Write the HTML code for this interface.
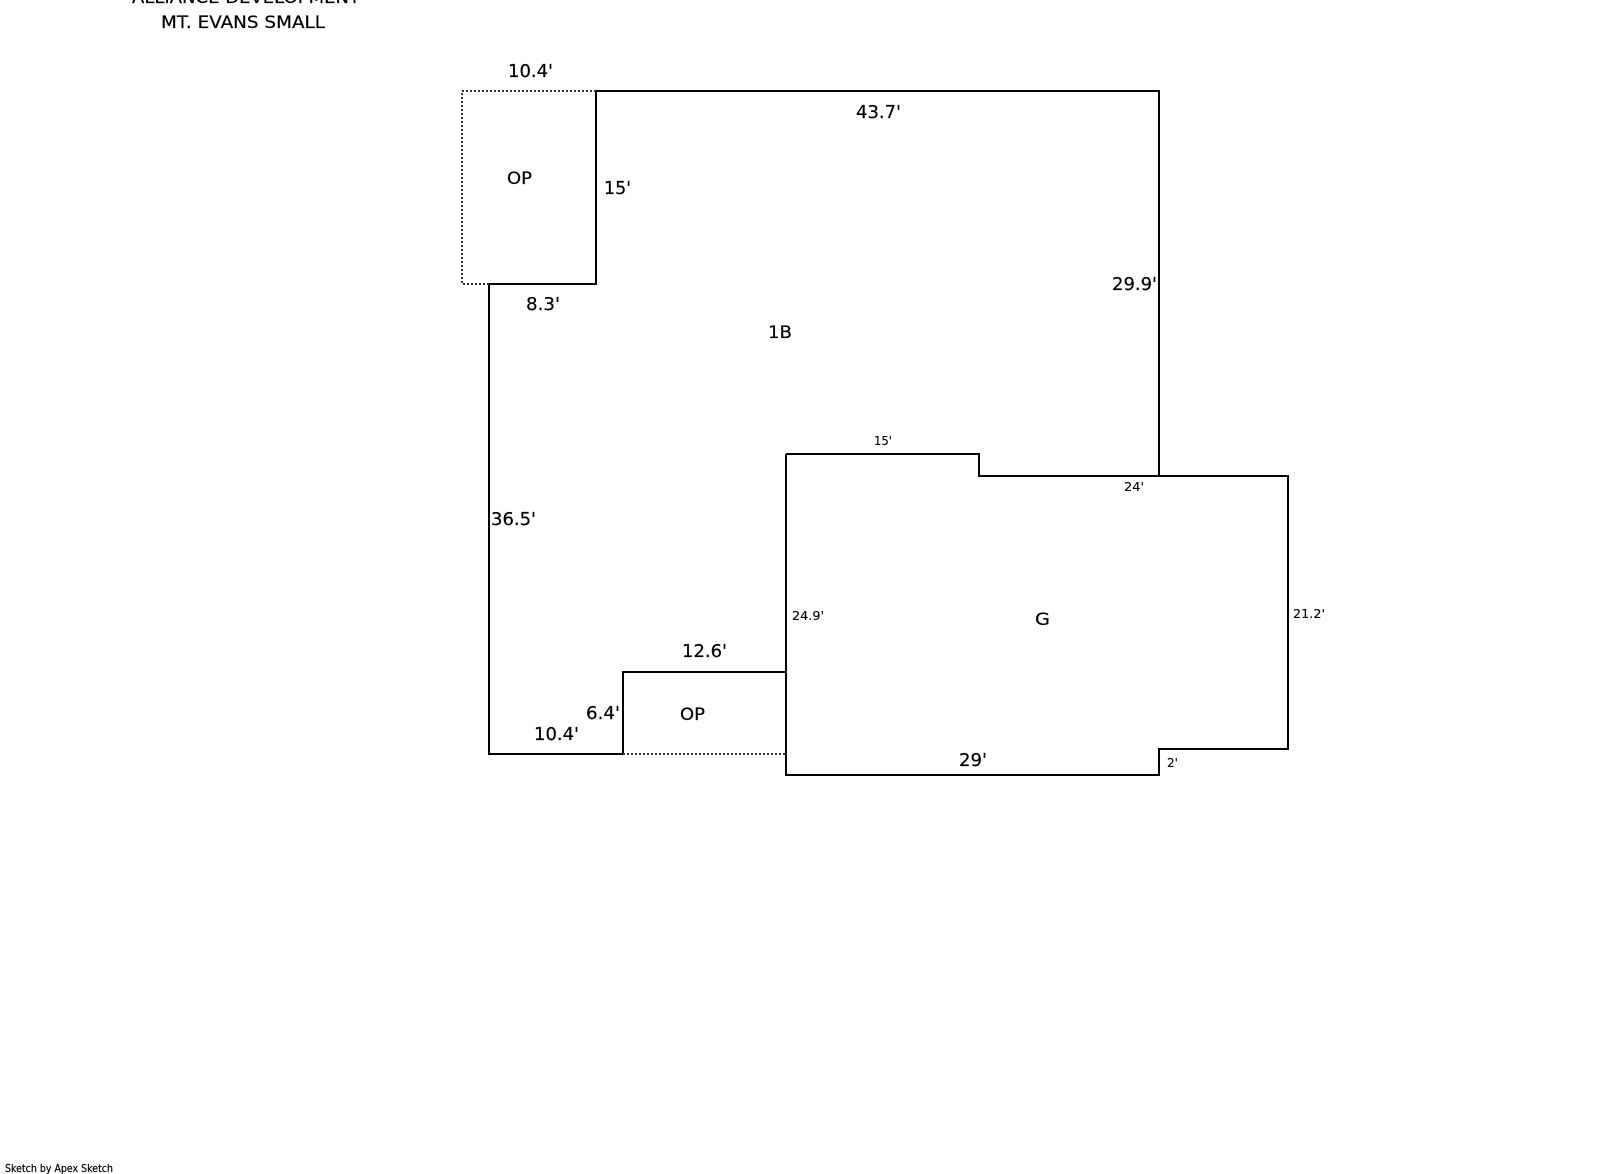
<!DOCTYPE html>
<html>
<head>
<meta charset="utf-8">
<style>
html,body{margin:0;padding:0;background:#fff;width:1601px;height:1174px;overflow:hidden}
svg{display:block}
text{font-family:"DejaVu Sans","Liberation Sans",sans-serif;fill:#000;stroke:#000;stroke-width:.2}
.b{font-size:18px}
.m{font-size:17px}
.s{font-size:12.5px;stroke-width:.1}
</style>
</head>
<body>
<svg width="1601" height="1174" viewBox="0 0 1601 1174" xmlns="http://www.w3.org/2000/svg">
<g fill="none" stroke="#000" stroke-width="2">
<path d="M596 91H1159V476"/>
<path d="M596 91V284H489V754H623V672H786"/>
<path d="M786 454H979V476H1288V749H1159V775H786V454"/>
</g>
<g fill="none" stroke="#333" stroke-width="2" stroke-dasharray="2 2">
<path d="M596 91H462V284H489"/>
<path d="M623 754H786"/>
</g>
<text class="m" x="132" y="3" textLength="228" lengthAdjust="spacingAndGlyphs">ALLIANCE DEVELOPMENT</text>
<text class="m" x="161" y="28" textLength="164" lengthAdjust="spacingAndGlyphs">MT. EVANS SMALL</text>
<text class="b" x="508" y="77" textLength="45" lengthAdjust="spacingAndGlyphs">10.4'</text>
<text class="m" x="507" y="184" textLength="25" lengthAdjust="spacingAndGlyphs">OP</text>
<text class="b" x="604" y="194" textLength="27" lengthAdjust="spacingAndGlyphs">15'</text>
<text class="b" x="526" y="310" textLength="34" lengthAdjust="spacingAndGlyphs">8.3'</text>
<text class="b" x="856" y="118" textLength="45" lengthAdjust="spacingAndGlyphs">43.7'</text>
<text class="b" x="1112" y="290" textLength="45" lengthAdjust="spacingAndGlyphs">29.9'</text>
<text class="m" x="768" y="338" textLength="24" lengthAdjust="spacingAndGlyphs">1B</text>
<text class="s" x="874" y="445" textLength="18" lengthAdjust="spacingAndGlyphs">15'</text>
<text class="s" x="1124" y="491" textLength="20" lengthAdjust="spacingAndGlyphs">24'</text>
<text class="s" x="792" y="620" textLength="32" lengthAdjust="spacingAndGlyphs">24.9'</text>
<text class="s" x="1293" y="618" textLength="32" lengthAdjust="spacingAndGlyphs">21.2'</text>
<text class="m" x="1035" y="625" textLength="15" lengthAdjust="spacingAndGlyphs">G</text>
<text class="b" x="491" y="525" textLength="45" lengthAdjust="spacingAndGlyphs">36.5'</text>
<text class="b" x="682" y="657" textLength="45" lengthAdjust="spacingAndGlyphs">12.6'</text>
<text class="b" x="586" y="719" textLength="34" lengthAdjust="spacingAndGlyphs">6.4'</text>
<text class="b" x="534" y="740" textLength="45" lengthAdjust="spacingAndGlyphs">10.4'</text>
<text class="m" x="680" y="720" textLength="25" lengthAdjust="spacingAndGlyphs">OP</text>
<text class="b" x="959" y="766" textLength="28" lengthAdjust="spacingAndGlyphs">29'</text>
<text class="s" x="1167" y="767" textLength="11" lengthAdjust="spacingAndGlyphs">2'</text>
<text x="5" y="1172" font-size="11" textLength="108" lengthAdjust="spacingAndGlyphs">Sketch by Apex Sketch</text>
</svg>
</body>
</html>
